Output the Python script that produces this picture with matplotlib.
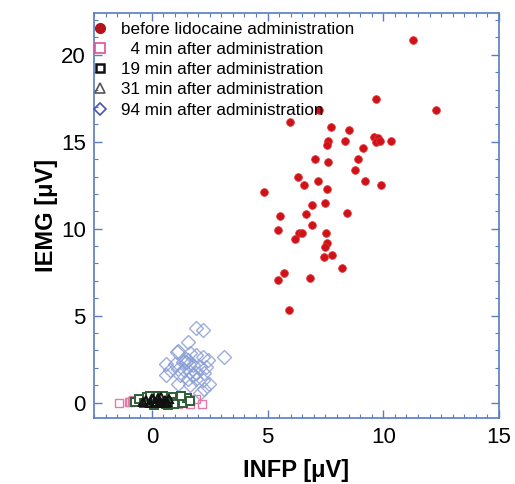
import matplotlib
matplotlib.use("Agg")
import matplotlib.pyplot as plt
from matplotlib.ticker import MultipleLocator
from matplotlib.lines import Line2D

plt.rcParams['font.family'] = ['Liberation Sans', 'DejaVu Sans']

# before lidocaine administration
before_x = [11.27, 9.67, 12.29, 7.23, 5.97, 7.74, 8.50, 7.63, 7.56, 8.34, 9.60, 9.77, 9.70,
            9.84, 10.34, 9.13, 7.04, 7.63, 8.89, 8.77, 6.31, 7.20, 9.23, 9.89, 6.56, 7.56,
            4.83, 6.94, 7.46, 8.44, 6.67, 5.53, 5.43, 6.94, 6.37, 6.49, 6.17, 7.51, 7.56,
            7.50, 7.80, 7.44, 8.23, 5.71, 5.46, 6.82, 5.93]
before_y = [20.86, 17.43, 16.84, 16.80, 16.13, 15.84, 15.65, 15.02, 14.79, 15.07, 15.27, 15.21, 14.98,
            15.02, 15.07, 14.64, 14.00, 13.85, 14.00, 13.39, 13.00, 12.76, 12.76, 12.49, 12.53, 12.26,
            12.11, 11.38, 11.48, 10.90, 10.86, 10.71, 9.90, 10.19, 9.73, 9.73, 9.43, 9.75, 9.20,
            8.95, 8.51, 8.39, 7.76, 7.43, 7.03, 7.18, 5.34]

# 4 min after administration
min4_x = [-1.44, -1.00, -0.84, -0.94, -0.80, 1.13, 1.91, 2.17, 1.63, 0.77, -0.30, 0.40, 1.30, 0.10]
min4_y = [0.00, 0.05, 0.10, 0.04, 0.13, -0.11, 0.23, -0.11, -0.06, -0.06, 0.10, 0.20, 0.05, -0.10]

# 19 min after administration
min19_x = [-0.73, -0.55, -0.35, -0.20, 0.00, 0.15, 0.30, 0.45, 0.60, 0.75, 0.90, 1.05, 1.20,
           1.35, 1.50, 1.63, 0.10, 0.50, 0.95, 1.25, -0.10, 0.70]
min19_y = [0.05, 0.20, -0.05, 0.30, 0.10, 0.35, 0.00, 0.25, -0.10, 0.15, 0.30, 0.05, 0.20,
           -0.05, 0.25, 0.10, -0.15, 0.40, -0.10, 0.35, 0.40, -0.15]

# 31 min after administration
min31_x = [-0.40, -0.25, -0.10, 0.05, 0.15, 0.25, 0.35, 0.45, 0.55, 0.65, 0.75, 0.20, 0.40, 0.00, 0.60]
min31_y = [0.05, 0.15, 0.00, 0.20, 0.05, 0.25, 0.10, 0.00, 0.15, 0.05, 0.20, -0.05, 0.30, 0.25, -0.05]

# 94 min after administration
min94_x = [1.89, 2.23, 1.56, 1.08, 1.13, 1.63, 1.91, 2.20, 2.41, 3.13, 0.63, 0.99, 1.34, 1.56,
           1.77, 2.06, 2.34, 0.77, 1.13, 1.41, 1.63, 1.91, 2.27, 0.63, 1.20, 1.56, 1.91, 2.20,
           1.13, 1.63, 2.49, 2.27, 2.06, 1.49, 1.59, 1.49, 1.77]
min94_y = [4.29, 4.16, 3.49, 2.91, 2.95, 2.82, 2.72, 2.63, 2.43, 2.63, 2.24, 2.24, 2.34, 2.43,
           2.14, 2.05, 2.05, 1.86, 1.95, 1.86, 1.76, 1.67, 1.67, 1.57, 1.57, 1.38, 1.38, 1.28,
           1.09, 0.99, 1.09, 0.80, 0.52, 2.34, 2.24, 2.49, 1.57]

x_ticks = [0, 5, 10, 15]
y_ticks = [0, 5, 10, 15, 20]

fig = plt.figure(figsize=(5.15, 4.84), dpi=100)
ax = fig.add_axes([0.1825, 0.136, 0.7865, 0.837])

ax.plot(min94_x, min94_y, linestyle='none', marker='D', markersize=7.5, markerfacecolor='none',
        markeredgecolor='#8c9fd6', markeredgewidth=1.0, alpha=0.85)
ax.plot(min4_x, min4_y, linestyle='none', marker='s', markersize=6, markerfacecolor='none',
        markeredgecolor='#e878a8', markeredgewidth=1.0)
ax.plot(min19_x, min19_y, linestyle='none', marker='s', markersize=6, markerfacecolor='white',
        markeredgecolor='#2f5e36', markeredgewidth=1.4)
ax.plot(min31_x, min31_y, linestyle='none', marker='^', markersize=6, markerfacecolor='none',
        markeredgecolor='#111111', markeredgewidth=1.4)
ax.plot(before_x, before_y, linestyle='none', marker='o', markersize=5.5,
        markerfacecolor='#cf1119', markeredgecolor='#e03030', markeredgewidth=0.6)

handles = [
    Line2D([], [], linestyle='none', marker='o', markersize=7, markerfacecolor='#b5121b', markeredgecolor='#b5121b'),
    Line2D([], [], linestyle='none', marker='s', markersize=6.5, markerfacecolor='none', markeredgecolor='#e0509a', markeredgewidth=1.2),
    Line2D([], [], linestyle='none', marker='s', markersize=6, markerfacecolor='none', markeredgecolor='#111111', markeredgewidth=1.8),
    Line2D([], [], linestyle='none', marker='^', markersize=6.5, markerfacecolor='none', markeredgecolor='#555555', markeredgewidth=1.2),
    Line2D([], [], linestyle='none', marker='D', markersize=6, markerfacecolor='none', markeredgecolor='#4a55b0', markeredgewidth=1.2),
]
labels = ['before lidocaine administration', '  4 min after administration',
          '19 min after administration', '31 min after administration',
          '94 min after administration']
ax.legend(handles, labels, loc='upper left', bbox_to_anchor=(0.0, 0.982), frameon=False,
          fontsize=12.3, handlelength=0.5, handletextpad=1.0, borderaxespad=0.0,
          borderpad=0.1, labelspacing=0.3)

ax.set_xlim(-2.5, 15)
ax.set_ylim(-0.9, 22.4)
ax.set_xticks(x_ticks)
ax.set_yticks(y_ticks)
ax.xaxis.set_minor_locator(MultipleLocator(0.5))
ax.yaxis.set_minor_locator(MultipleLocator(1))

spine_c = '#5a7cc0'
for s in ax.spines.values():
    s.set_color(spine_c)
    s.set_linewidth(1.2)
ax.tick_params(which='both', direction='in', top=True, right=True, color=spine_c)
ax.tick_params(which='major', length=6, width=1.0, labelsize=16, pad=6)
ax.tick_params(which='minor', length=3, width=0.8)

ax.set_xlabel('INFP [\u03bcV]', fontsize=17, fontweight='bold', labelpad=8)
ax.set_ylabel('IEMG [\u03bcV]', fontsize=17, fontweight='bold', labelpad=2)

fig.savefig('out.png', dpi=100)
